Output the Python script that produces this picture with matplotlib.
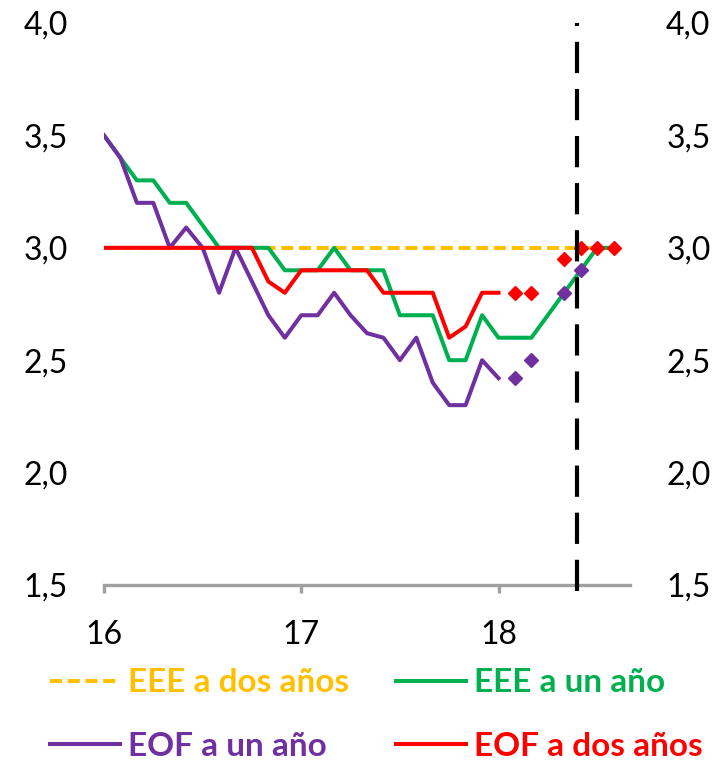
"""
Expectativas de inflación: EEE y EOF a uno y dos años
"""
import numpy as np
import matplotlib
matplotlib.use('Agg')
import matplotlib.pyplot as plt
from matplotlib.lines import Line2D

plt.rcParams['font.family'] = ['Lato', 'DejaVu Sans']

# datos mensuales desde ene-2016 (índice de mes)
meses = np.arange(32)
x = 16 + meses / 12.0

eee_dos = [3.0, 3.0, 3.0, 3.0, 3.0, 3.0, 3.0, 3.0, 3.0, 3.0, 3.0, 3.0, 3.0, 3.0, 3.0, 3.0,
           3.0, 3.0, 3.0, 3.0, 3.0, 3.0, 3.0, 3.0, 3.0, 3.0, 3.0, 3.0, 3.0, 3.0, 3.0, 3.0]
eee_uno = [3.5, 3.4, 3.3, 3.3, 3.2, 3.2, 3.1, 3.0, 3.0, 3.0, 3.0, 2.9, 2.9, 2.9, 3.0, 2.9,
           2.9, 2.9, 2.7, 2.7, 2.7, 2.5, 2.5, 2.7, 2.6, 2.6, 2.6, 2.7, 2.8, 2.9, 3.0, 3.0]
eof_uno = [3.5, 3.4, 3.2, 3.2, 3.0, 3.09, 3.0, 2.8, 3.0, 2.85, 2.7, 2.6, 2.7, 2.7, 2.8, 2.7,
           2.62, 2.6, 2.5, 2.6, 2.4, 2.3, 2.3, 2.5, 2.42]
eof_dos = [3.0, 3.0, 3.0, 3.0, 3.0, 3.0, 3.0, 3.0, 3.0, 3.0, 2.85, 2.8, 2.9, 2.9, 2.9, 2.9,
           2.9, 2.8, 2.8, 2.8, 2.8, 2.6, 2.65, 2.8, 2.8]
# puntos sueltos (rombos) tras el último dato de la línea
eof_uno_pts = [np.nan] * 25 + [2.42, 2.5, np.nan, 2.8, 2.9]
eof_dos_pts = [np.nan] * 25 + [2.8, 2.8, np.nan, 2.95, 3.0, 3.0, 3.0]
linea_vertical = 18.4

c_amarillo = '#FFC000'
c_verde = '#00B050'
c_morado = '#7030A0'
c_rojo = '#FF0000'
gris = '#A0A0A0'

fig = plt.figure(figsize=(7.21, 7.64), dpi=100)
ax = fig.add_axes([104 / 721, 179 / 764, 526 / 721, 562 / 764])

lw = 2.9
ax.plot(x, eee_dos, color=c_amarillo, lw=lw, dashes=(3.0, 1.4), zorder=2)
ax.plot(x, eee_uno, color=c_verde, lw=lw, zorder=3)
ax.plot(x[:len(eof_uno)], eof_uno, color=c_morado, lw=lw, zorder=4)
ax.plot(x[:len(eof_dos)], eof_dos, color=c_rojo, lw=lw, zorder=5)
ax.plot(x[:len(eof_uno_pts)], eof_uno_pts, 'D', color=c_morado, ms=7.5, zorder=6)
ax.plot(x[:len(eof_dos_pts)], eof_dos_pts, 'D', color=c_rojo, ms=7.5, zorder=6)
ax.axvline(linea_vertical, ymin=-0.01, ymax=1.0, color='black', lw=3,
           dashes=(7.5, 3.8), clip_on=False, zorder=7)

ax.set_xlim(16, 16 + 32 / 12.0)
ax.set_ylim(1.5, 4.0)
yt = [1.5, 2.0, 2.5, 3.0, 3.5, 4.0]
ylab = ['1,5', '2,0', '2,5', '3,0', '3,5', '4,0']
ax.set_yticks(yt)
ax.set_yticklabels(ylab)
ax.set_xticks([16, 17, 18])
ax.set_xticklabels(['16', '17', '18'])

for s in ['left', 'right', 'top']:
    ax.spines[s].set_visible(False)
ax.spines['bottom'].set_color(gris)
ax.spines['bottom'].set_linewidth(2.4)
ax.tick_params(axis='y', length=0, pad=26, labelsize=23)
ax.tick_params(axis='x', length=6, width=2.4, color=gris, pad=19, labelsize=23)

ax2 = ax.twinx()
ax2.set_ylim(1.5, 4.0)
ax2.set_yticks(yt)
ax2.set_yticklabels(ylab)
for s in ax2.spines.values():
    s.set_visible(False)
ax2.tick_params(axis='y', length=0, pad=26, labelsize=23)

handles = [Line2D([], [], color=c_amarillo, lw=lw, dashes=(3.0, 1.4)),
           Line2D([], [], color=c_morado, lw=lw),
           Line2D([], [], color=c_verde, lw=lw),
           Line2D([], [], color=c_rojo, lw=lw)]
labels = ['EEE a dos años', 'EOF a un año', 'EEE a un año', 'EOF a dos años']
leg = fig.legend(handles, labels, ncol=2, loc='upper left', bbox_to_anchor=(0.069, 0.125),
                 frameon=False, handlelength=2.1, handletextpad=0.24, columnspacing=1.4,
                 labelspacing=1.02, borderaxespad=0, borderpad=0,
                 prop={'size': 24, 'weight': 'bold'}, labelcolor='linecolor')

plt.savefig('out.png', dpi=100)
